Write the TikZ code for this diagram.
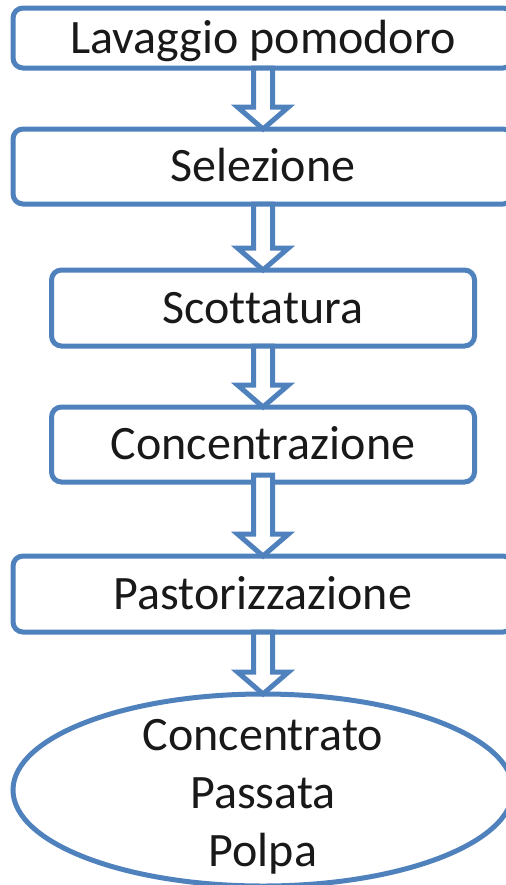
\documentclass[tikz,border=0pt]{standalone}
\usepackage{fontspec}
\setmainfont{Carlito}[Ligatures=NoCommon]
\usetikzlibrary{calc,shapes.geometric}

\definecolor{flowblue}{RGB}{79,129,189}
\tikzset{
  stepbox/.style={draw=flowblue, line width=3.75pt, rounded corners=7.5pt, outer sep=0pt, inner sep=0pt,
    text=black!90, text height=23pt, text depth=0pt, font=\fontsize{36}{44}\selectfont},
  outcome/.style={draw=flowblue, line width=3.75pt, ellipse, outer sep=0pt, inner sep=0pt,
    minimum width=375pt, minimum height=144pt},
  outtext/.style={align=center, text=black!90, font=\fontsize{36}{43.5}\selectfont},
  blockarrow/.style={draw=flowblue, line width=3.75pt, fill=white, line join=miter},
}
% hollow block arrow: shaft from #1 down to the tip #2
\newcommand{\flowarrow}[2]{%
  \draw[blockarrow] ($(#1)+(-9.5,0)$) -- ($(#2)+(-9.5,-22)$) -- ($(#2)+(-25.5,-22)$) -- (#2)
    -- ($(#2)+(25.5,-22)$) -- ($(#2)+(9.5,-22)$) -- ($(#1)+(9.5,0)$) -- cycle ;}

\begin{document}
\begin{tikzpicture}[x=0.75pt,y=0.75pt,yscale=-1,xscale=1]
\useasboundingbox (0,0) rectangle (506,885);
\clip (0,0) rectangle (506,885);

%Shape: Rounded Rect
\node[stepbox, minimum width=375pt, minimum height=45pt] (lav) at (263,38) {Lavaggio pomodoro};
%Shape: Rounded Rect
\node[stepbox, minimum width=375pt, minimum height=56.25pt] (sel) at (263,166.5) {Selezione};
%Shape: Rounded Rect
\node[stepbox, minimum width=317.25pt, minimum height=57pt] (scot) at (263,308) {Scottatura};
%Shape: Rounded Rect
\node[stepbox, minimum width=317.25pt, minimum height=56.25pt] (conc) at (263,444.5) {Concentrazione};
%Shape: Rounded Rect
\node[stepbox, minimum width=375pt, minimum height=57pt] (past) at (263,594) {Pastorizzazione};
%Shape: Ellipse
\node[outcome] (prod) at (263,790) {};
% Text Node
\node[outtext] (prodtext) at (263,797) {Concentrato\\Passata\\Polpa};

%Shape: Down Arrow
\flowarrow{lav.south}{sel.north}
\flowarrow{sel.south}{scot.north}
\flowarrow{scot.south}{conc.north}
\coordinate (concgap) at ([yshift=-5.25pt]conc.south);
\flowarrow{concgap}{past.north}
\flowarrow{past.south}{prod.north}

\end{tikzpicture}
\end{document}
